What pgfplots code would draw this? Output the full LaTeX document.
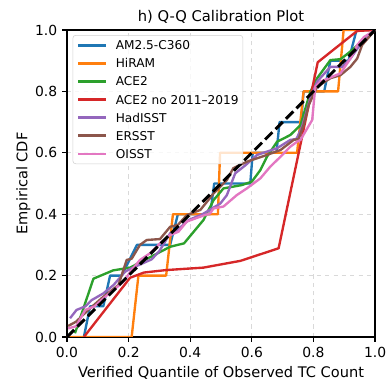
\documentclass[border=0pt]{standalone}
\usepackage{fontspec}
\setmainfont{DejaVu Sans}
\usepackage{pgfplots}
\pgfplotsset{compat=1.18}
\definecolor{c0}{HTML}{1F77B4}
\definecolor{c1}{HTML}{FF7F0E}
\definecolor{c2}{HTML}{2CA02C}
\definecolor{c3}{HTML}{D62728}
\definecolor{c4}{HTML}{9467BD}
\definecolor{c5}{HTML}{8C564B}
\definecolor{c6}{HTML}{E377C2}
\begin{document}
\begin{tikzpicture}
\begin{axis}[
  at={(0,0)}, anchor=south west,
  scale only axis, width=221.8pt, height=221pt,
  xmin=0, xmax=1, ymin=0, ymax=1,
  xtick={0,0.2,0.4,0.6,0.8,1.0},
  ytick={0,0.2,0.4,0.6,0.8,1.0},
  /pgf/number format/.cd, fixed, fixed zerofill, precision=1, assume math mode=true, /tikz/.cd,
  tick label style={font=\fontsize{10}{12}\selectfont},
  label style={font=\fontsize{10.5}{12.5}\selectfont},
  ylabel style={yshift=-3.5pt},
  title={h) Q-Q Calibration Plot},
  title style={font=\fontsize{10.6}{12.6}\selectfont, at={(0.5,1)}, anchor=base, inner sep=0pt},
  xlabel={Verified Quantile of Observed TC Count},
  ylabel={Empirical CDF},
  grid=major,
  major grid style={dashed, black!15, line width=0.6pt},
  tick align=outside, major tick length=3.5pt, tick pos=left,
  axis line style={line width=0.8pt},
  every tick/.style={black, line width=0.8pt},
  legend cell align=left,
  legend image code/.code={\draw[#1] (0pt,0pt) -- (19.7pt,0pt);},
  legend style={at={(0.0185,0.9837)}, anchor=north west, draw=black!18, rounded corners=2pt,
    fill=white, fill opacity=0.8, text opacity=1, font=\fontsize{8.75}{10.5}\selectfont,
    nodes={inner sep=0pt, text height=6.5pt, text depth=0pt},
    row sep=6.5pt, column sep=6.5pt, inner xsep=3pt, inner ysep=4pt},
  every axis plot/.append style={line width=1.7pt, line join=round},
]
\addplot[c0] coordinates {(0.055,0) (0.075,0.1) (0.118,0.1) (0.14,0.2) (0.178,0.2) (0.227,0.3) (0.335,0.3) (0.36,0.4) (0.465,0.4) (0.478,0.5) (0.595,0.5) (0.603,0.6) (0.68,0.6) (0.69,0.7) (0.76,0.7) (0.768,0.8) (0.835,0.8) (0.855,0.9) (0.914,0.9) (0.94,1.0) (1,1)};
\addlegendentry{AM2.5-C360}
\addplot[c1] coordinates {(0,0) (0.21,0) (0.232,0.2) (0.322,0.2) (0.344,0.4) (0.49,0.4) (0.497,0.6) (0.747,0.6) (0.768,0.8) (0.88,0.8) (0.898,1.0) (1,1)};
\addlegendentry{HiRAM}
\addplot[c2] coordinates {(0.026,0.012) (0.086,0.19) (0.15,0.217) (0.205,0.226) (0.335,0.294) (0.38,0.305) (0.443,0.381) (0.476,0.446) (0.508,0.484) (0.568,0.495) (0.6,0.506) (0.628,0.544) (0.649,0.587) (0.682,0.636) (0.725,0.658) (0.758,0.69) (0.79,0.799) (0.812,0.843) (0.855,0.902) (0.888,0.905) (0.92,0.93) (1,1)};
\addlegendentry{ACE2}
\addplot[c3] coordinates {(0.055,0) (0.205,0.193) (0.25,0.21) (0.322,0.218) (0.443,0.226) (0.563,0.248) (0.687,0.289) (0.814,0.895) (0.942,0.997) (1,1)};
\addlegendentry{ACE2 no 2011–2019}
\addplot[c4] coordinates {(0.01,0.061) (0.031,0.088) (0.06,0.1) (0.08,0.12) (0.118,0.142) (0.151,0.169) (0.189,0.213) (0.21,0.224) (0.275,0.253) (0.3,0.28) (0.335,0.338) (0.36,0.35) (0.395,0.381) (0.44,0.4) (0.498,0.435) (0.519,0.462) (0.546,0.533) (0.58,0.56) (0.617,0.593) (0.682,0.615) (0.725,0.642) (0.745,0.645) (0.763,0.685) (0.79,0.777) (0.812,0.832) (0.855,0.88) (0.893,0.88) (0.92,0.907) (0.95,0.95) (1,1)};
\addlegendentry{HadISST}
\addplot[c5] coordinates {(0.004,0.036) (0.03,0.05) (0.069,0.088) (0.118,0.131) (0.167,0.169) (0.194,0.251) (0.21,0.255) (0.237,0.3) (0.259,0.316) (0.302,0.319) (0.335,0.359) (0.36,0.365) (0.389,0.397) (0.433,0.414) (0.459,0.446) (0.476,0.468) (0.519,0.511) (0.54,0.55) (0.584,0.571) (0.649,0.593) (0.693,0.609) (0.736,0.642) (0.752,0.645) (0.768,0.691) (0.785,0.756) (0.812,0.815) (0.855,0.843) (0.888,0.853) (0.92,0.88) (0.942,0.907) (0.958,0.951) (1,1)};
\addlegendentry{ERSST}
\addplot[c6] coordinates {(0.004,0.028) (0.03,0.035) (0.059,0.088) (0.09,0.1) (0.124,0.131) (0.151,0.153) (0.183,0.18) (0.21,0.218) (0.237,0.251) (0.27,0.273) (0.302,0.305) (0.335,0.332) (0.362,0.343) (0.389,0.376) (0.433,0.392) (0.465,0.403) (0.476,0.419) (0.508,0.425) (0.551,0.462) (0.584,0.484) (0.628,0.517) (0.66,0.555) (0.693,0.587) (0.725,0.62) (0.747,0.636) (0.758,0.642) (0.796,0.707) (0.806,0.815) (0.823,0.832) (0.888,0.859) (0.92,0.907) (0.942,0.951) (0.964,0.977) (1,1)};
\addlegendentry{OISST}
\addplot[black, line width=2.1pt, dash pattern=on 7.4pt off 3.2pt, forget plot] coordinates {(0,0) (1,1)};
\end{axis}
\pgfresetboundingbox
\useasboundingbox (-48.2pt,-31.7pt) rectangle (234pt,242.6pt);
\end{tikzpicture}
\end{document}
